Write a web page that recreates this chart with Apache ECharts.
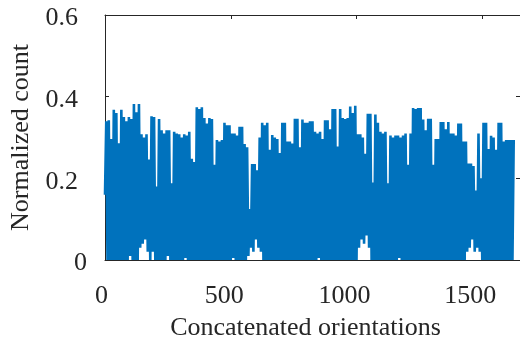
<!DOCTYPE html>
<html>
<head>
<meta charset="utf-8">
<script src="https://cdn.jsdelivr.net/npm/echarts@6/dist/echarts.min.js"></script>
<style>
html,body{margin:0;padding:0;background:#fff;}
#chart{width:520px;height:346px;}
</style>
</head>
<body>
<div id="chart"></div>
<script>
// Sampled normalized counts (one sample every 5 concatenated orientations)
const orientationStep = 5;
const normalizedCount = [
0.16,0.34,0,0.342,0,0.296,0,0.368,0,0.36,
0,0.286,0,0.368,0,0.35,0,0.34,0,0.35,
0.01,0.345,0,0.382,0,0.362,0,0.382,0.03,0.308,
0.04,0.3,0.05,0.308,0.02,0.246,0,0.352,0.02,0.35,
0,0.18,0,0.345,0,0.318,0,0.31,0,0.318,
0.01,0.318,0,0.188,0,0.314,0,0.31,0,0.308,
0,0.3,0,0.308,0.005,0.305,0,0.314,0,0.248,
0,0.24,0,0.374,0,0.37,0,0.374,0,0.348,
0,0.334,0,0.348,0,0.345,0,0.233,0,0.294,
0,0.29,0,0.294,0,0.336,0,0.33,0,0.33,
0,0.31,0.005,0.31,0,0.305,0,0.326,0,0.326,
0,0.284,0,0.276,0.01,0.125,0.03,0.235,0.02,0.235,
0.05,0.22,0.03,0.3,0.02,0.336,0,0.33,0,0.336,
0,0.27,0,0.306,0,0.3,0,0.296,0,0.262,
0,0.336,0,0.336,0,0.29,0,0.29,0,0.285,
0,0.346,0,0.346,0,0.276,0,0.344,0,0.336,
0,0.336,0,0.34,0,0.34,0,0.314,0,0.31,
0.005,0.314,0,0.296,0,0.342,0,0.342,0,0.32,
0,0.37,0,0.37,0,0.278,0,0.37,0,0.348,
0,0.345,0,0.348,0,0.376,0,0.36,0,0.378,
0,0.308,0.03,0.308,0.05,0.3,0.04,0.26,0.06,0.358,
0.03,0.358,0,0.19,0,0.356,0,0.336,0,0.314,
0,0.31,0,0.314,0,0.188,0,0.305,0,0.3,
0,0.305,0,0.305,0.005,0.3,0,0.305,0,0.31,
0,0.233,0,0.31,0,0.372,0,0.37,0,0.372,
0,0.372,0,0.344,0,0.318,0,0.346,0,0.346,
0,0.233,0,0.296,0,0.296,0,0.338,0,0.338,
0,0.32,0,0.338,0,0.31,0,0.31,0,0.305,
0,0.334,0,0.334,0,0.29,0,0.29,0.02,0.236,
0.03,0.236,0.05,0.23,0.02,0.17,0.03,0.31,0.02,0.2,
0,0.336,0,0.336,0,0.272,0,0.304,0,0.3,
0,0.27,0,0.336,0,0.336,0,0.29,0,0.294,
0,0.294,0,0.294,0,0.294
];
const xTickLabels = [0, 500, 1000, 1500];
const yTickLabels = [0, 0.2, 0.4, 0.6];
const xMax = 1650;

const seriesData = normalizedCount.map((v, i) => [i * orientationStep, v]);

const FONT = "'Liberation Serif','Times New Roman',serif";
const AX = '#262626';

const chart = echarts.init(document.getElementById('chart'), null, {renderer: 'canvas'});
const xRich = {a:{padding:[0,7,0,0]}, b:{padding:[0,13,0,0]}, c:{padding:[0,24,0,0]}, d:{padding:[0,24,0,0]}};
const xKeys = ['a','b','c','d'];
const lineCfg = {show: true, onZero: false, lineStyle: {color: AX, width: 1}};
const tickCfg = {show: true, inside: true, length: 4, lineStyle: {color: AX}};
chart.setOption({
  animation: false,
  backgroundColor: '#fff',
  grid: {left: 105, right: -3, top: 15, bottom: 81, containLabel: false},
  xAxis: [{
    type: 'value', min: 0, max: xMax, interval: 500, position: 'bottom',
    axisLine: lineCfg, axisTick: tickCfg,
    splitLine: {show: false},
    axisLabel: {
      show: true, margin: 23, color: AX, fontFamily: FONT, fontSize: 26,
      showMaxLabel: false,
      formatter: v => { const k = xTickLabels.indexOf(v); return k < 0 ? '' : '{' + xKeys[k] + '|' + xTickLabels[k] + '}'; },
      rich: xRich
    },
    name: 'Concatenated orientations', nameLocation: 'middle', nameGap: 55,
    nameTextStyle: {color: AX, fontFamily: FONT, fontSize: 26, padding: [0, 14, 0, 0]}
  }, {
    type: 'value', min: 0, max: xMax, interval: 500, position: 'top',
    axisLine: lineCfg, axisTick: tickCfg,
    splitLine: {show: false}, axisLabel: {show: false}
  }],
  yAxis: [{
    type: 'value', min: 0, max: 0.6, interval: 0.2, position: 'left',
    axisLine: lineCfg, axisTick: tickCfg,
    splitLine: {show: false},
    axisLabel: {
      show: true, margin: 18, color: AX, fontFamily: FONT, fontSize: 26,
      formatter: v => { const k = yTickLabels.findIndex(t => Math.abs(t - v) < 1e-9); if (k < 0) return ''; return k === 0 ? '{z|0}' : '{p|' + yTickLabels[k].toFixed(1) + '}'; },
      rich: {p: {padding: [7, 9, 0, 0]}, z: {padding: [7, 0, 0, 0]}}
    },
    name: 'Normalized count', nameLocation: 'middle', nameGap: 68,
    nameTextStyle: {color: AX, fontFamily: FONT, fontSize: 26}
  }, {
    type: 'value', min: 0, max: 0.6, interval: 0.2, position: 'right',
    axisLine: lineCfg, axisTick: tickCfg,
    splitLine: {show: false}, axisLabel: {show: false}
  }],
  series: [{
    type: 'line', xAxisIndex: 0, yAxisIndex: 0,
    data: seriesData, showSymbol: false, symbol: 'none',
    lineStyle: {color: '#0072BD', width: 2.6, join: 'bevel'},
    sampling: null, clip: true, z: 1
  }]
});
</script>
</body>
</html>
